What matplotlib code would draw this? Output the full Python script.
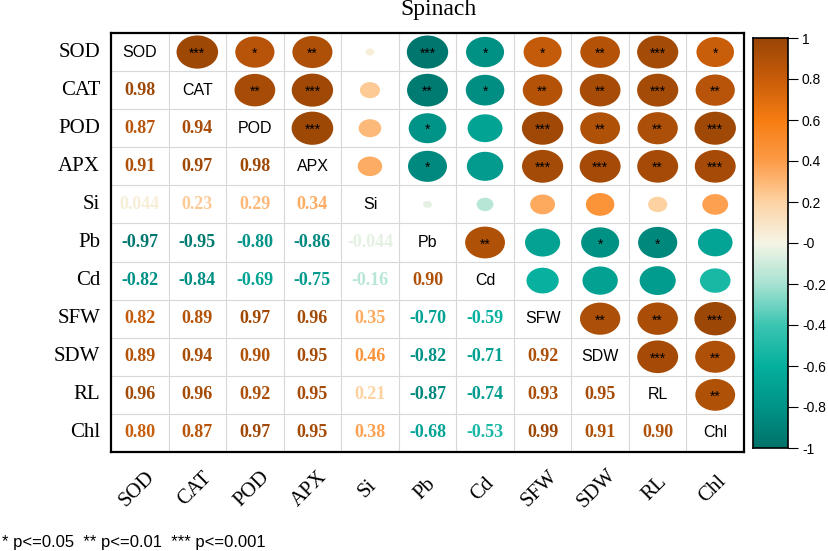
"""
Spinach correlation matrix, corrplot style (numbers below, ellipses above)
"""
import numpy as np
import matplotlib.pyplot as plt
from matplotlib.colors import LinearSegmentedColormap
from matplotlib.patches import Ellipse
from matplotlib.transforms import blended_transform_factory

labels = ["SOD", "CAT", "POD", "APX", "Si", "Pb", "Cd", "SFW", "SDW", "RL", "Chl"]

# lower triangle of the correlation matrix, row by row
lower = [
    [],
    [0.98],
    [0.87, 0.94],
    [0.91, 0.97, 0.98],
    [0.044, 0.23, 0.29, 0.34],
    [-0.97, -0.95, -0.80, -0.86, -0.044],
    [-0.82, -0.84, -0.69, -0.75, -0.16, 0.90],
    [0.82, 0.89, 0.97, 0.96, 0.35, -0.70, -0.59],
    [0.89, 0.94, 0.90, 0.95, 0.46, -0.82, -0.71, 0.92],
    [0.96, 0.96, 0.92, 0.95, 0.21, -0.87, -0.74, 0.93, 0.95],
    [0.80, 0.87, 0.97, 0.95, 0.38, -0.68, -0.53, 0.99, 0.91, 0.90],
]

# significance stars of the upper triangle, row by row (columns after diagonal)
stars = [
    ["***", "*", "**", "", "***", "*", "*", "**", "***", "*"],
    ["**", "***", "", "**", "*", "**", "**", "***", "**"],
    ["***", "", "*", "", "***", "**", "**", "***"],
    ["", "*", "", "***", "***", "**", "***"],
    ["", "", "", "", "", ""],
    ["**", "", "*", "*", ""],
    ["", "", "", ""],
    ["**", "**", "***"],
    ["***", "**"],
    ["**"],
    [],
]

n = len(labels)
R = np.eye(n)
for i in range(n):
    for j, v in enumerate(lower[i]):
        R[i, j] = v
        R[j, i] = v

cmap = LinearSegmentedColormap.from_list("tealorange", [
    (0.00, "#00736a"), (0.10, "#009488"), (0.20, "#06b09e"),
    (0.30, "#3cc6b2"), (0.40, "#a8e2d2"), (0.50, "#f5f5e6"),
    (0.60, "#fdd3a4"), (0.70, "#fd9c48"), (0.80, "#f77d12"),
    (0.90, "#c95d0a"), (1.00, "#9a4606")])


def col(v):
    return cmap((v + 1) / 2)


def fmt(v):
    if abs(v) < 0.1:
        return "%.3f" % v
    return "%.2f" % v


W, H = 829, 551
fig = plt.figure(figsize=(W / 100, H / 100), dpi=100)
ax = fig.add_axes([111 / W, (H - 452) / H, 633 / W, 419 / H])
ax.set_xlim(0, n)
ax.set_ylim(n, 0)
ax.set_xticks([])
ax.set_yticks([])
for s in ax.spines.values():
    s.set_linewidth(1.6)
    s.set_color("black")

for k in range(1, n):
    ax.axhline(k, color="#d8d8d8", lw=0.8, zorder=0)
    ax.axvline(k, color="#d8d8d8", lw=0.8, zorder=0)

serif = "Liberation Serif"
sans = "Liberation Sans"

for i in range(n):
    for j in range(n):
        v = R[i, j]
        if i == j:
            ax.text(j + 0.5, i + 0.5, labels[i], ha="center", va="center",
                    family=sans, fontsize=11.5)
        elif i > j:
            ax.text(j + 0.5, i + 0.5, fmt(v), ha="center", va="center",
                    family=serif, fontsize=13, fontweight="bold", color=col(v))
        else:
            s = np.sqrt(abs(v))
            ax.add_patch(Ellipse((j + 0.5, i + 0.5), 0.73 * s, 0.88 * s,
                                 facecolor=col(v), edgecolor="none", zorder=2))
            st = stars[i][j - i - 1]
            if st:
                ax.text(j + 0.5, i + 0.55, st, ha="center", va="center",
                        family=sans, fontsize=10, zorder=3)

# row labels and rotated column labels
trans = blended_transform_factory(ax.transData, ax.transAxes)
for k, lab in enumerate(labels):
    ax.text(-0.19, k + 0.5, lab, ha="right", va="center", family=serif,
            fontsize=15)
    ax.text(k + 0.45, -0.088, lab, ha="center", va="center", rotation=45,
            family=serif, fontsize=15, transform=trans)

fig.text(439 / W, 1 - 10 / H, "Spinach", ha="center", va="center",
         family=serif, fontsize=17)

# colorbar
cax = fig.add_axes([753 / W, (H - 448) / H, 35 / W, 410 / H])
grad = np.linspace(-1, 1, 256).reshape(-1, 1)
cax.imshow(grad, cmap=cmap, aspect="auto", origin="lower", extent=[0, 1, -1, 1])
cax.set_xticks([])
cax.yaxis.tick_right()
ticks = np.round(np.arange(-1, 1.01, 0.2), 1)
cax.set_yticks(ticks)
cax.set_yticklabels(["%g" % t for t in ticks], family=sans, fontsize=10)
cax.tick_params(axis="y", length=7, width=0.8, pad=3)
for s in cax.spines.values():
    s.set_linewidth(1.2)

fig.text(2 / W, 1 - 543 / H, "* p<=0.05  ** p<=0.01  *** p<=0.001",
         ha="left", va="center", family=sans, fontsize=12)

fig.savefig("out.png", dpi=100)
